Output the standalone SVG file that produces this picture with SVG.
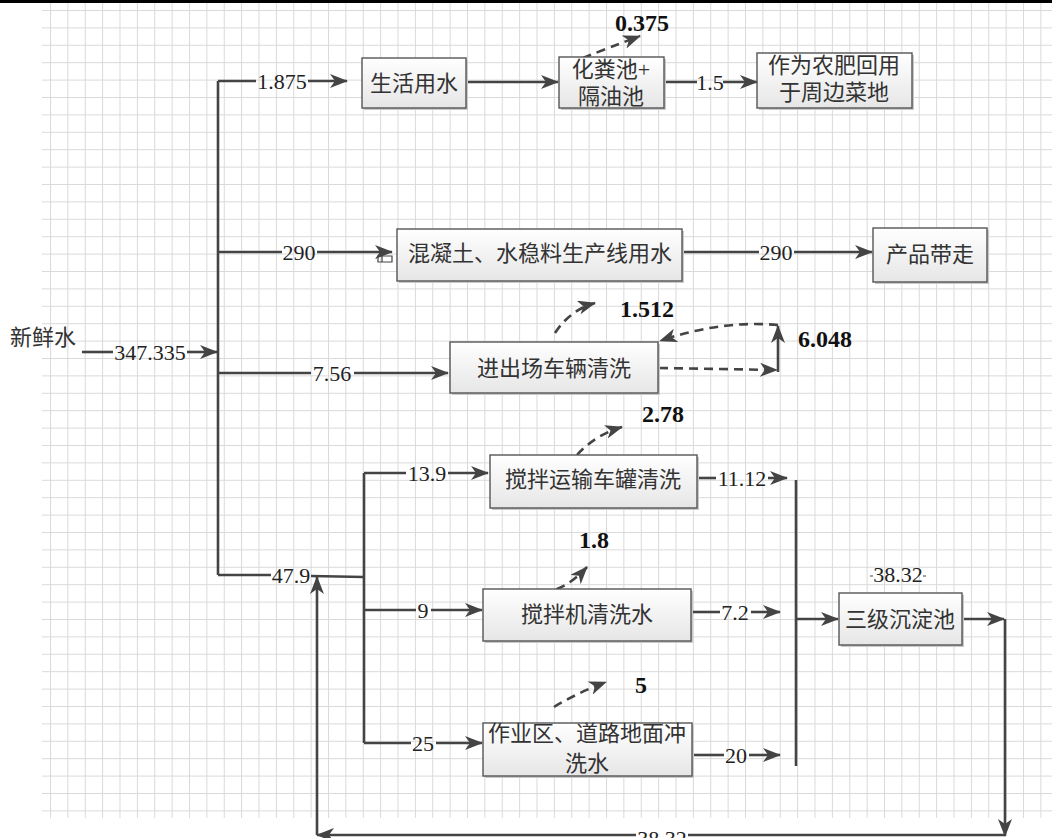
<svg xmlns="http://www.w3.org/2000/svg" width="1052" height="838" viewBox="0 0 1052 838">
<style>
.bx{fill:url(#bg);stroke:#555;stroke-width:1.4}
.sh{fill:#c9c9c9}
.t{font-family:"Liberation Serif","Noto Sans CJK SC",serif;font-size:22px;fill:#333;text-anchor:middle}
.n{font-family:"Liberation Serif",serif;font-size:22px;fill:#222;text-anchor:middle}
.b{font-family:"Liberation Serif",serif;font-size:24px;font-weight:bold;fill:#111;text-anchor:middle}
.c{fill:none;stroke:#444;stroke-width:2.6}
.a{marker-end:url(#ah)}
.d{fill:none;stroke:#444;stroke-width:2.6;stroke-dasharray:9 6}
</style>
<defs>
<linearGradient id="bg" x1="0" y1="0" x2="0" y2="1">
<stop offset="0" stop-color="#ffffff"/>
<stop offset="1" stop-color="#e6e6e6"/>
</linearGradient>
<pattern id="grid" patternUnits="userSpaceOnUse" x="50" y="10" width="17.375" height="17.4">
<path d="M0,0.5 H17.375 M0.5,0 V17.4" fill="none" stroke="#d9d9d9" stroke-width="1"/>
</pattern>
<marker id="ah" markerUnits="userSpaceOnUse" viewBox="0 0 18 14" refX="17" refY="7" markerWidth="18" markerHeight="14" orient="auto">
<path d="M0,0 L18,7 L0,14 L5,7 z" fill="#444"/>
</marker>
</defs>
<rect x="0" y="0" width="1052" height="838" fill="#ffffff"/>
<rect x="42" y="3" width="1010" height="815" fill="url(#grid)"/>
<rect x="0" y="0" width="1052" height="3" fill="#000"/>

<g id="connectors">
<!-- input -->
<path class="c" d="M82,352 L113,352"/>
<path class="c a" d="M187,352 L217,352"/>
<text class="n" x="150" y="360">347.335</text>
<!-- main trunk -->
<path class="c" d="M218,81 L218,575"/>
<path class="c" d="M218,81 L256,81"/>
<path class="c a" d="M308,81 L347,81"/>
<text class="n" x="282" y="89">1.875</text>
<path class="c" d="M218,252 L282,252"/>
<path class="c a" d="M317,252 L392,252"/>
<path d="M378,256 h14 v6 h-14 z M382,256 v6" fill="none" stroke="#444" stroke-width="1.2"/>
<text class="n" x="299" y="260">290</text>
<path class="c" d="M218,373 L311,373"/>
<path class="c a" d="M354,373 L448,373"/>
<text class="n" x="332" y="381">7.56</text>
<path class="c" d="M218,575 L271,575"/>
<path class="c" d="M311,576 L364,577"/>
<text class="n" x="291" y="583">47.9</text>
<!-- sub trunk -->
<path class="c" d="M364,473 L364,743"/>
<path class="c" d="M364,473 L406,473"/>
<path class="c a" d="M448,473 L488,473"/>
<text class="n" x="427" y="481">13.9</text>
<path class="c" d="M364,610 L416,610"/>
<path class="c a" d="M431,610 L482,610"/>
<text class="n" x="423" y="618">9</text>
<path class="c" d="M364,743 L411,743"/>
<path class="c a" d="M436,743 L482,743"/>
<text class="n" x="423" y="751">25</text>
<!-- row 1 -->
<path class="c a" d="M466,82 L558,82"/>
<path class="c" d="M664,82 L697,82"/>
<path class="c a" d="M723,82 L757,82"/>
<text class="n" x="710" y="90">1.5</text>
<path class="d a" d="M583,58 Q608,48 640,36"/>
<text class="b" x="642" y="31">0.375</text>
<!-- row 3 loop -->
<path class="c" d="M682,252 L759,252"/>
<path class="c a" d="M794,252 L872,252"/>
<text class="n" x="776" y="260">290</text>
<path class="d a" d="M555,333 Q570,310 595,303"/>
<text class="b" x="647" y="317">1.512</text>
<path class="d a" d="M659,368 L777,370"/>
<path class="c a" d="M778,372 L778,326"/>
<path class="d a" d="M778,325 Q720,320 660,341"/>
<text class="b" x="825" y="347">6.048</text>
<!-- evaporation -->
<path class="d a" d="M577,455 Q595,435 622,427"/>
<text class="b" x="663" y="422">2.78</text>
<path class="d a" d="M542,593 Q566,590 587,567"/>
<text class="b" x="594" y="548">1.8</text>
<path class="d a" d="M554,707 Q575,694 606,682"/>
<text class="b" x="641" y="693">5</text>
<!-- outputs to collector -->
<path class="c" d="M697,478 L716,478"/>
<path class="c a" d="M768,478 L787,478"/>
<text class="n" x="742" y="486">11.12</text>
<path class="c" d="M691,612 L720,612"/>
<path class="c a" d="M751,612 L780,612"/>
<text class="n" x="735" y="620">7.2</text>
<path class="c" d="M692,755 L724,755"/>
<path class="c a" d="M749,755 L780,755"/>
<text class="n" x="736" y="763">20</text>
<path class="c" d="M796,480 L796,766"/>
<path class="c a" d="M796,619 L838,619"/>
<text class="n" x="898" y="582">38.32</text>
<path d="M870,576 h3 M923,576 h3" stroke="#444" stroke-width="1.2"/>
<!-- return loop -->
<path class="c a" d="M962,619 L1004,619"/>
<path class="c a" d="M1005,619 L1005,836"/>
<path class="c" d="M1005,835 L688,835"/>
<path class="c a" d="M636,835 L317,835"/>
<text class="n" x="662" y="846">38.32</text>
<path class="c a" d="M317,835 L317,577"/>
</g>

<text class="t" x="10" y="345" style="text-anchor:start">新鲜水</text>

<g id="n_shenghuo">
<rect class="sh" x="364" y="60" width="104" height="50"/>
<rect class="bx" x="362" y="58" width="104" height="50"/>
<text class="t" x="414" y="91">生活用水</text>
</g>
<g id="n_huafen">
<rect class="sh" x="561" y="59" width="105" height="51"/>
<rect class="bx" x="559" y="57" width="105" height="51"/>
<text class="t" x="611" y="77">化粪池+</text>
<text class="t" x="611" y="104">隔油池</text>
</g>
<g id="n_nongfei">
<rect class="sh" x="759" y="55" width="155" height="55"/>
<rect class="bx" x="757" y="53" width="155" height="55"/>
<text class="t" x="834" y="73">作为农肥回用</text>
<text class="t" x="834" y="100">于周边菜地</text>
</g>
<g id="n_hunning">
<rect class="sh" x="399" y="231" width="285" height="52"/>
<rect class="bx" x="397" y="229" width="285" height="52"/>
<text class="t" x="540" y="261">混凝土、水稳料生产线用水</text>
</g>
<g id="n_chanpin">
<rect class="sh" x="875" y="230" width="114" height="54"/>
<rect class="bx" x="873" y="228" width="114" height="54"/>
<text class="t" x="930" y="262">产品带走</text>
</g>
<g id="n_jinchu">
<rect class="sh" x="452" y="344" width="208" height="51"/>
<rect class="bx" x="450" y="342" width="208" height="51"/>
<text class="t" x="554" y="376">进出场车辆清洗</text>
</g>
<g id="n_guan">
<rect class="sh" x="492" y="457" width="207" height="53"/>
<rect class="bx" x="490" y="455" width="207" height="53"/>
<text class="t" x="593" y="487">搅拌运输车罐清洗</text>
</g>
<g id="n_jiaobanji">
<rect class="sh" x="485" y="591" width="208" height="52"/>
<rect class="bx" x="483" y="589" width="208" height="52"/>
<text class="t" x="587" y="622">搅拌机清洗水</text>
</g>
<g id="n_sanji">
<rect class="sh" x="841" y="595" width="123" height="52"/>
<rect class="bx" x="839" y="593" width="123" height="52"/>
<text class="t" x="900" y="627">三级沉淀池</text>
</g>
<g id="n_zuoye">
<rect class="sh" x="485" y="725" width="209" height="53"/>
<rect class="bx" x="483" y="723" width="209" height="53"/>
<text class="t" x="587" y="741">作业区、道路地面冲</text>
<text class="t" x="587" y="771">洗水</text>
</g>
</svg>
